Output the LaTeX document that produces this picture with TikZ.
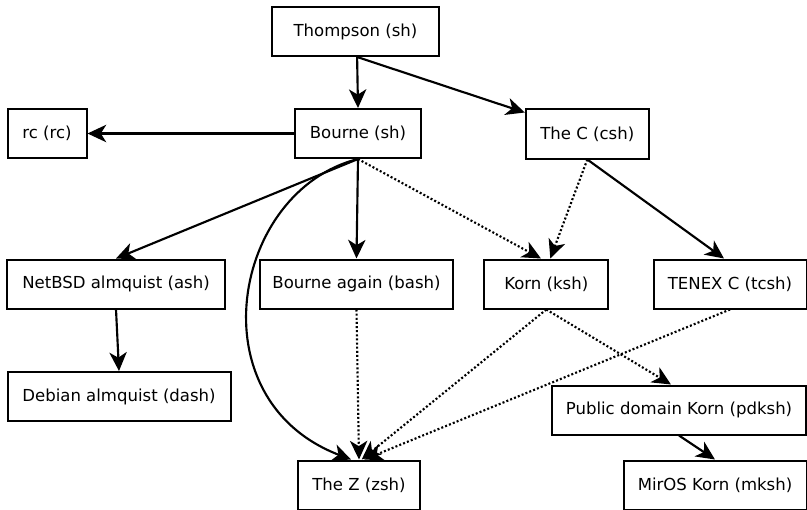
\documentclass[tikz,border=0pt]{standalone}
\usepackage{fontspec}
\setmainfont{DejaVu Sans}
\usetikzlibrary{arrows.meta}
\begin{document}
\begin{tikzpicture}[x=0.75pt,y=-0.75pt,
  box/.style={draw, line width=1.5pt, minimum height=36.75pt, inner sep=0pt,
    font=\fontsize{12.4}{14}\selectfont},
  edge/.style={line width=1.6pt, -{Stealth[length=14pt,width=13pt,inset=4pt]}},
  dotedge/.style={edge, dash pattern=on 1.5pt off 1.6pt}]
\useasboundingbox (0,0) rectangle (807,510);
\node[box, minimum width=125.25pt] (thompson) at (355.5,31.5) {Thompson (sh)};
\node[box, minimum width=94.5pt] (bourne) at (358,133.5) {Bourne (sh)};
\node[box, minimum width=92.25pt] (thec) at (587.3,134) {The C (csh)};
\node[box, minimum width=59.25pt] (rc) at (47,133.5) {rc (rc)};
\node[box, minimum width=163.5pt] (netbsd) at (116,284) {NetBSD almquist (ash)};
\node[box, minimum width=167.25pt] (debian) at (119,396.5) {Debian almquist (dash)};
\node[box, minimum width=144.75pt] (bash) at (356.5,284) {Bourne again (bash)};
\node[box, minimum width=93pt] (korn) at (546.3,284) {Korn (ksh)};
\node[box, minimum width=114.75pt] (tenex) at (730,284) {TENEX C (tcsh)};
\node[box, minimum width=190.5pt] (pdksh) at (679,410) {Public domain Korn (pdksh)};
\node[box, minimum width=137.25pt] (mksh) at (715,485) {MirOS Korn (mksh)};
\node[box, minimum width=91.5pt] (zsh) at (359,485) {The Z (zsh)};

\draw[edge] ([xshift=1.2pt]thompson.south) -- (bourne.north);
\draw[edge] ([xshift=1.2pt]thompson.south) -- ([yshift=-3pt]thec.north west);
\draw[edge] (bourne.west) -- (rc.east);
\draw[edge] (bourne.south) -- (netbsd.north);
\draw[edge] (bourne.south) -- (bash.north);
\draw[dotedge] (bourne.south) -- ([xshift=-4pt]korn.north);
\draw[edge] (bourne.south) .. controls +(194:97pt) and +(159:126pt) .. ([xshift=-6pt]zsh.north);
\draw[dotedge] (thec.south) -- ([xshift=3pt]korn.north);
\draw[edge] (thec.south) -- ([xshift=-4.5pt]tenex.north);
\draw[edge] (netbsd.south) -- (debian.north);
\draw[dotedge] (bash.south) -- (zsh.north);
\draw[dotedge] (korn.south) -- ([xshift=2pt]zsh.north);
\draw[dotedge] (korn.south) -- ([xshift=-6pt]pdksh.north);
\draw[dotedge] (tenex.south) -- ([xshift=4pt]zsh.north);
\draw[edge] (pdksh.south) -- (mksh.north);
\end{tikzpicture}
\end{document}
